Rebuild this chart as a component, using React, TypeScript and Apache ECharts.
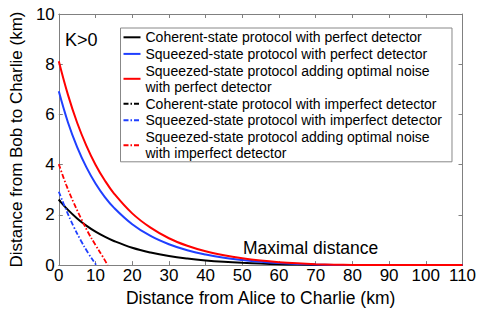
import React, { useEffect, useRef } from "react";
import * as echarts from "echarts";

const FONT = "'Liberation Sans', Arial, Helvetica, sans-serif";

const seriesNames = [
  "Coherent-state protocol with perfect detector",
  "Squeezed-state protocol with perfect detector",
  "Squeezed-state protocol adding optimal noise\nwith perfect detector",
  "Coherent-state protocol with imperfect detector",
  "Squeezed-state protocol with imperfect detector",
  "Squeezed-state protocol adding optimal noise\nwith imperfect detector",
];

const xPerfect = [0, 2.5, 5, 7.5, 10, 12.5, 15, 20, 25, 30, 35, 40, 45, 50, 55, 60, 65, 70, 75, 80, 85, 90, 100, 110];
const coherentPerfect = [2.6, 2.2, 1.86, 1.57, 1.33, 1.13, 0.96, 0.69, 0.5, 0.36, 0.26, 0.185, 0.13, 0.09, 0.06, 0.037, 0.02, 0.008, 0, 0, 0, 0, 0, 0];
const squeezedPerfect = [6.92, 5.68, 4.7, 3.9, 3.25, 2.72, 2.29, 1.63, 1.16, 0.83, 0.59, 0.42, 0.29, 0.2, 0.13, 0.08, 0.045, 0.02, 0.006, 0, 0, 0, 0, 0];
const noisePerfect = [8.12, 6.78, 5.67, 4.76, 4.0, 3.38, 2.86, 2.06, 1.49, 1.07, 0.77, 0.55, 0.39, 0.27, 0.18, 0.115, 0.07, 0.038, 0.017, 0.005, 0, 0, 0, 0];

const xCoherentImp = [0, 0.4];
const coherentImp = [2.62, 2.55];
const xSqueezedImp = [0, 2, 4, 6, 8, 10, 10.2];
const squeezedImp = [2.92, 2.2, 1.55, 0.98, 0.48, 0.04, 0];
const xNoiseImp = [0, 2, 4, 6, 8, 10, 12, 13.3];
const noiseImp = [4.02, 3.2, 2.5, 1.88, 1.3, 0.8, 0.33, 0];

const xTicks = { min: 0, max: 110, interval: 10 };
const yTicks = { min: 0, max: 10, interval: 2 };

const zip = (xs: number[], ys: number[]) => xs.map((x, i) => [x, ys[i]]);

export default function App() {
  const ref = useRef<HTMLDivElement>(null);
  useEffect(() => {
    if (!ref.current) return;
    const chart = echarts.init(ref.current, undefined, { renderer: "svg" });
    const axisGray = "#808080";
    const mkSeries = (name: string, data: number[][], color: string, dashed: boolean) => ({
      name,
      type: "line",
      data,
      symbol: "none",
      smooth: 0.4,
      clip: false,
      lineStyle: {
        color,
        width: dashed ? 1.8 : 2,
        type: dashed ? [5, 2, 1.5, 2] : "solid",
      },
      itemStyle: { color },
    });
    const xAxisBase = {
      type: "value",
      min: xTicks.min,
      max: xTicks.max,
      interval: xTicks.interval,
      splitLine: { show: false },
      axisLine: { show: true, onZero: false, lineStyle: { color: axisGray, width: 1 } },
      axisTick: { show: true, inside: true, length: 4, lineStyle: { color: axisGray } },
    };
    const yAxisBase = {
      type: "value",
      min: yTicks.min,
      max: yTicks.max,
      interval: yTicks.interval,
      splitLine: { show: false },
      axisLine: { show: true, onZero: false, lineStyle: { color: axisGray, width: 1 } },
      axisTick: { show: true, inside: true, length: 4, lineStyle: { color: axisGray } },
    };
    chart.setOption({
      animation: false,
      backgroundColor: "#fff",
      textStyle: { fontFamily: FONT },
      grid: { left: 47.5, right: 17.5, top: 14, bottom: 43, containLabel: false },
      xAxis: [
        {
          ...xAxisBase,
          position: "bottom",
          name: "Distance from Alice to Charlie (km)",
          nameLocation: "middle",
          nameGap: 21,
          nameTextStyle: { fontSize: 17.5, color: "#000", fontFamily: FONT },
          axisLabel: { fontSize: 17, color: "#000", margin: 2, fontFamily: FONT },
        },
        { ...xAxisBase, position: "top", axisLabel: { show: false } },
      ],
      yAxis: [
        {
          ...yAxisBase,
          position: "left",
          name: "Distance from Bob to Charlie (km)",
          nameLocation: "middle",
          nameGap: 25,
          nameTextStyle: { fontSize: 17, color: "#000", fontFamily: FONT },
          axisLabel: { fontSize: 17, color: "#000", margin: 4, fontFamily: FONT },
        },
        { ...yAxisBase, position: "right", axisLabel: { show: false } },
      ],
      legend: {
        orient: "vertical",
        left: 120.5,
        top: 28,
        backgroundColor: "#fff",
        borderColor: "#888",
        borderWidth: 1,
        borderRadius: 0,
        padding: [1, 10, 0, 2],
        itemGap: 0,
        itemWidth: 17,
        itemHeight: 10,
        itemStyle: { opacity: 0 },
        textStyle: { fontSize: 14, lineHeight: 16.6, color: "#000", fontFamily: FONT },
        data: seriesNames,
      },
      graphic: [
        { type: "text", left: 65, top: 31, style: { text: "K>0", fontSize: 18, fill: "#000", fontFamily: FONT } },
        { type: "text", left: 243, top: 239, style: { text: "Maximal distance", fontSize: 17.5, fill: "#000", fontFamily: FONT } },
      ],
      series: [
        mkSeries(seriesNames[0], zip(xPerfect, coherentPerfect), "#000000", false),
        mkSeries(seriesNames[1], zip(xPerfect, squeezedPerfect), "#1f3fff", false),
        mkSeries(seriesNames[2], zip(xPerfect, noisePerfect), "#ff0000", false),
        mkSeries(seriesNames[3], zip(xCoherentImp, coherentImp), "#000000", true),
        mkSeries(seriesNames[4], zip(xSqueezedImp, squeezedImp), "#1f3fff", true),
        mkSeries(seriesNames[5], zip(xNoiseImp, noiseImp), "#ff0000", true),
      ],
    });
    return () => chart.dispose();
  }, []);
  return (
    <div
      ref={ref}
      style={{ position: "fixed", left: 0, top: 0, width: 480, height: 312, background: "#fff" }}
    />
  );
}
